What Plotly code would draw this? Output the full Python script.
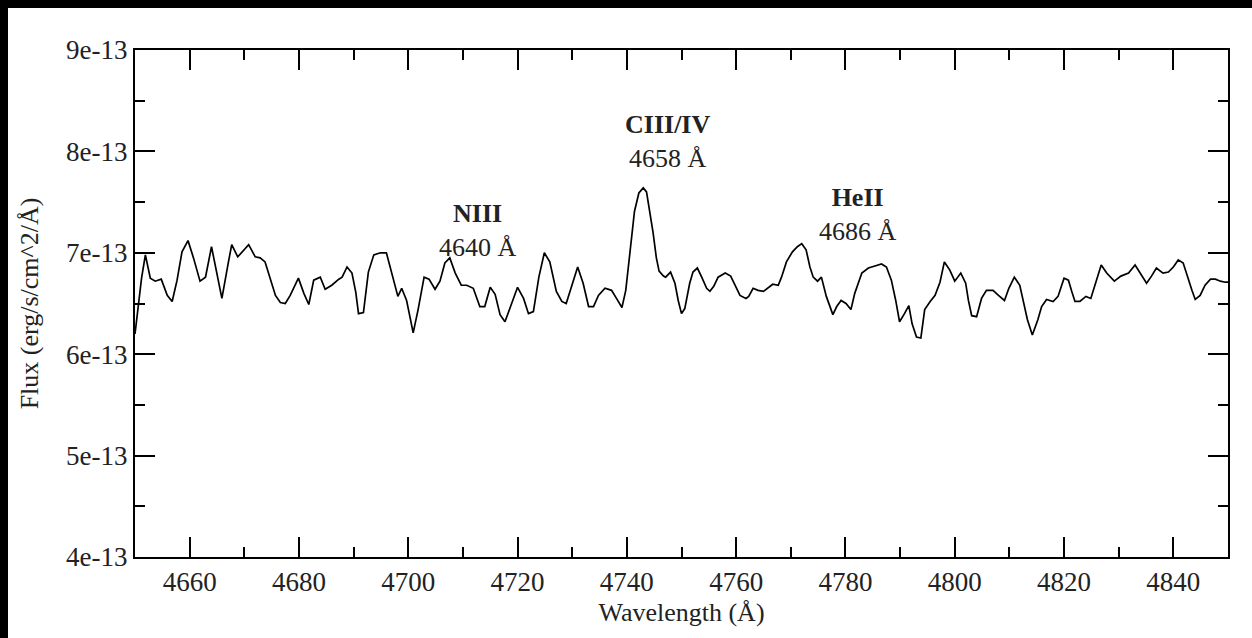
import plotly.graph_objects as go

wavelength = [
    4650.0, 4650.6, 4651.2, 4651.9, 4652.8, 4653.7, 4654.8, 4655.9, 4656.8, 4657.7,
    4658.6, 4659.7, 4660.7, 4661.9, 4662.9, 4664.0, 4664.8, 4665.9, 4667.1, 4667.7,
    4668.8, 4669.9, 4670.8, 4672.0, 4672.9, 4673.8, 4674.8, 4675.7, 4676.6, 4677.5,
    4678.4, 4679.9, 4680.9, 4681.8, 4682.7, 4683.9, 4684.8, 4686.0, 4687.3, 4687.9,
    4688.8, 4689.7, 4690.4, 4690.9, 4691.8, 4692.7, 4693.7, 4694.9, 4696.0, 4696.7,
    4697.3, 4698.1, 4698.8, 4699.7, 4700.3, 4700.9, 4701.8, 4702.9, 4703.8, 4704.9,
    4705.8, 4706.7, 4707.6, 4708.6, 4709.7, 4710.7, 4711.9, 4713.1, 4714.0, 4715.0,
    4715.9, 4716.8, 4717.7, 4718.9, 4720.0, 4721.1, 4722.0, 4722.9, 4723.9, 4724.9,
    4725.9, 4727.1, 4728.1, 4728.9, 4729.9, 4731.0, 4732.0, 4733.0, 4733.9, 4734.8,
    4736.0, 4737.2, 4738.1, 4739.1, 4739.8, 4740.6, 4741.4, 4742.2, 4743.0, 4743.6,
    4744.2, 4744.8, 4745.4, 4745.9, 4746.7, 4747.1, 4748.0, 4748.8, 4749.4, 4750.0,
    4750.6, 4751.5, 4752.1, 4752.9, 4753.7, 4754.6, 4755.2, 4755.9, 4756.7, 4758.0,
    4759.0, 4759.8, 4760.7, 4761.8, 4762.3, 4763.1, 4764.0, 4765.0, 4765.9, 4766.7,
    4767.7, 4768.3, 4769.2, 4770.3, 4771.2, 4772.0, 4772.8, 4773.5, 4774.1, 4774.9,
    4775.6, 4776.5, 4777.7, 4778.4, 4779.2, 4780.1, 4781.0, 4781.7, 4783.0, 4784.2,
    4785.4, 4786.6, 4787.5, 4788.4, 4789.2, 4789.9, 4790.8, 4791.6, 4792.2, 4793.0,
    4793.8, 4794.5, 4795.5, 4796.4, 4797.3, 4798.1, 4799.1, 4800.0, 4801.1, 4802.0,
    4802.5, 4803.1, 4804.0, 4804.9, 4805.8, 4807.0, 4808.0, 4809.1, 4809.9, 4810.9,
    4811.9, 4812.5, 4813.3, 4814.2, 4815.2, 4815.9, 4816.8, 4818.0, 4818.9, 4820.0,
    4820.8, 4821.4, 4822.0, 4822.9, 4824.0, 4824.9, 4825.8, 4826.8, 4827.8, 4829.2,
    4830.4, 4831.8, 4833.0, 4834.1, 4835.1, 4836.0, 4836.9, 4838.1, 4839.1, 4840.0,
    4840.9, 4841.8, 4842.6, 4843.4, 4844.0, 4844.9, 4845.8, 4846.8, 4847.7, 4848.6,
    4849.5, 4850.0,
]

# flux in units of 1e-13 erg/s/cm^2/A
flux_e13 = [
    6.20, 6.45, 6.75, 6.98, 6.75, 6.72, 6.74, 6.58, 6.52, 6.73,
    7.01, 7.12, 6.95, 6.72, 6.76, 7.06, 6.83, 6.55, 6.91, 7.08,
    6.96, 7.03, 7.08, 6.96, 6.95, 6.91, 6.73, 6.58, 6.51, 6.50,
    6.58, 6.75, 6.60, 6.49, 6.73, 6.76, 6.64, 6.68, 6.74, 6.76,
    6.86, 6.80, 6.61, 6.40, 6.41, 6.81, 6.98, 7.00, 7.00, 6.86,
    6.73, 6.57, 6.65, 6.53, 6.37, 6.21, 6.44, 6.76, 6.74, 6.64,
    6.72, 6.90, 6.95, 6.80, 6.68, 6.68, 6.65, 6.47, 6.47, 6.66,
    6.59, 6.39, 6.32, 6.50, 6.66, 6.55, 6.40, 6.42, 6.76, 7.00,
    6.91, 6.62, 6.52, 6.50, 6.67, 6.86, 6.70, 6.47, 6.47, 6.58,
    6.65, 6.63, 6.55, 6.46, 6.63, 7.00, 7.41, 7.59, 7.64, 7.60,
    7.42, 7.20, 6.95, 6.82, 6.77, 6.76, 6.81, 6.70, 6.53, 6.40,
    6.45, 6.70, 6.81, 6.85, 6.76, 6.65, 6.62, 6.67, 6.76, 6.80,
    6.77, 6.68, 6.58, 6.55, 6.57, 6.65, 6.63, 6.62, 6.66, 6.69,
    6.68, 6.76, 6.91, 7.01, 7.06, 7.09, 7.03, 6.86, 6.76, 6.72,
    6.76, 6.57, 6.39, 6.47, 6.53, 6.50, 6.44, 6.60, 6.80, 6.85,
    6.87, 6.89, 6.86, 6.73, 6.53, 6.32, 6.40, 6.48, 6.30, 6.17,
    6.16, 6.44, 6.52, 6.58, 6.71, 6.91, 6.83, 6.72, 6.80, 6.70,
    6.53, 6.38, 6.37, 6.55, 6.63, 6.63, 6.58, 6.53, 6.65, 6.76,
    6.68, 6.53, 6.34, 6.19, 6.34, 6.47, 6.54, 6.52, 6.57, 6.75,
    6.73, 6.62, 6.52, 6.52, 6.57, 6.55, 6.70, 6.88, 6.80, 6.72,
    6.77, 6.80, 6.88, 6.78, 6.70, 6.77, 6.85, 6.80, 6.81, 6.86,
    6.93, 6.90, 6.76, 6.63, 6.54, 6.58, 6.68, 6.74, 6.74, 6.72,
    6.71, 6.71,
]

x_ticks = [4660, 4680, 4700, 4720, 4740, 4760, 4780, 4800, 4820, 4840]
y_ticks = [4, 5, 6, 7, 8, 9]
y_tick_labels = ["4e-13", "5e-13", "6e-13", "7e-13", "8e-13", "9e-13"]

line_names = ["NIII", "CIII/IV", "HeII"]
line_rest = ["4640 Å", "4658 Å", "4686 Å"]
label_x = [4712.8, 4747.5, 4782.3]
label_y = [7.22, 8.10, 7.38]

FONT = "Liberation Serif"
FS = 27
TXT = "#222222"

fig = go.Figure()
fig.add_trace(go.Scatter(x=wavelength, y=flux_e13, mode="lines",
                         line=dict(color="black", width=1.7), showlegend=False,
                         hoverinfo="skip"))

for name, rest, lx, ly in zip(line_names, line_rest, label_x, label_y):
    fig.add_annotation(x=lx, y=ly, xref="x", yref="y",
                       text=f"<b>{name}</b><br>{rest}", showarrow=False,
                       font=dict(family=FONT, size=FS - 1, color=TXT),
                       align="center")

axis_common = dict(showline=True, linecolor="black", linewidth=2, mirror="ticks",
                   ticks="inside", ticklen=20, tickwidth=2, tickcolor="black",
                   showgrid=False, zeroline=False,
                   tickfont=dict(family=FONT, size=FS, color=TXT))

fig.update_xaxes(range=[4650, 4850], tickvals=x_ticks,
                 minor=dict(dtick=10, tick0=4650, ticks="inside", ticklen=10,
                            tickwidth=2, tickcolor="black", showgrid=False),
                 title=dict(text="Wavelength (Å)", font=dict(family=FONT, size=FS - 1, color=TXT),
                            standoff=6),
                 **axis_common)
fig.update_yaxes(range=[4, 9], tickvals=y_ticks, ticktext=y_tick_labels,
                 minor=dict(dtick=0.5, tick0=4, ticks="inside", ticklen=10,
                            tickwidth=2, tickcolor="black", showgrid=False),
                 title=dict(text="Flux (erg/s/cm^2/Å)", font=dict(family=FONT, size=FS - 1, color=TXT),
                            standoff=20),
                 **axis_common)

W, H = 1252, 638
ml, mr, mt, mb = 135, 24, 50, 81
pw, ph = W - ml - mr, H - mt - mb
# black frame strips along the top and left edges of the picture
fig.add_shape(type="rect", xref="paper", yref="paper",
              x0=-ml / pw, x1=(W - ml) / pw, y0=1 + (mt - 8) / ph, y1=1 + mt / ph,
              fillcolor="black", line=dict(width=0), layer="above")
fig.add_shape(type="rect", xref="paper", yref="paper",
              x0=-ml / pw, x1=(8 - ml) / pw, y0=-mb / ph, y1=1 + mt / ph,
              fillcolor="black", line=dict(width=0), layer="above")

fig.update_layout(width=W, height=H, margin=dict(l=ml, r=mr, t=mt, b=mb),
                  paper_bgcolor="white", plot_bgcolor="white")

fig.write_html(
    "out.html",
    post_script=("document.documentElement.style.overflow='hidden';"
                 "document.body.style.overflow='hidden';"
                 "document.body.style.margin='0';"),
)
